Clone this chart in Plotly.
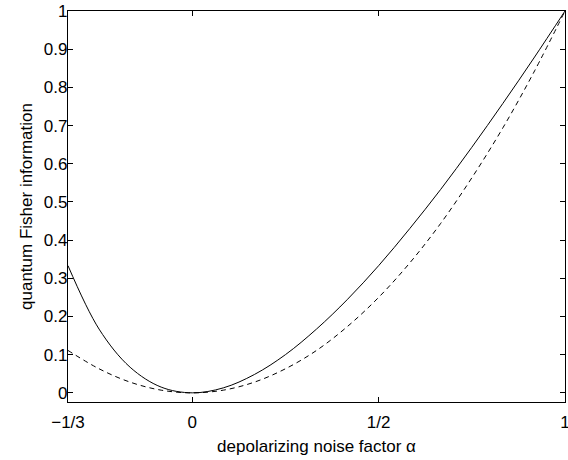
import plotly.graph_objects as go

# alpha sample points
alpha = [-4/12, -3/12, -2/12, -1/12, 0, 1/12, 2/12, 3/12, 4/12, 5/12,
         6/12, 7/12, 8/12, 9/12, 10/12, 11/12, 1]
# solid curve values
qfi_solid = [0.333, 0.167, 0.067, 0.015, 0.0, 0.013, 0.048, 0.100, 0.167,
             0.245, 0.333, 0.430, 0.533, 0.643, 0.758, 0.877, 1.0]
# dashed curve values
qfi_dashed = [0.111, 0.063, 0.028, 0.007, 0.0, 0.007, 0.028, 0.063, 0.111,
              0.174, 0.250, 0.340, 0.444, 0.563, 0.694, 0.840, 1.0]

x_tickvals = [-1/3, 0, 0.5, 1]
x_ticktext = ["\u22121/3", "0", "1/2", "1"]
y_tickvals = [0, 0.1, 0.2, 0.3, 0.4, 0.5, 0.6, 0.7, 0.8, 0.9, 1]
y_ticktext = ["0", "0.1", "0.2", "0.3", "0.4", "0.5", "0.6", "0.7", "0.8", "0.9", "1"]

fig = go.Figure()
fig.add_trace(go.Scatter(x=alpha, y=qfi_solid, mode="lines",
                         line=dict(color="black", width=1, shape="spline"),
                         showlegend=False))
fig.add_trace(go.Scatter(x=alpha, y=qfi_dashed, mode="lines",
                         line=dict(color="black", width=1, dash="5px,4px", shape="spline"),
                         showlegend=False))

axis_common = dict(showgrid=False, zeroline=False, showline=True, linecolor="black",
                   linewidth=1.3, mirror="ticks", ticks="inside", ticklen=5,
                   tickcolor="black", tickwidth=1, ticklabeloverflow="allow",
                   tickfont=dict(family="Liberation Sans, Arial, sans-serif", size=17, color="black"))

fig.update_layout(
    width=568, height=460,
    margin=dict(l=68, r=3, t=11, b=58),
    paper_bgcolor="white", plot_bgcolor="white",
    font=dict(family="Liberation Sans, Arial, sans-serif", size=17, color="black"),
    xaxis=dict(range=[-1/3, 1], tickvals=x_tickvals, ticktext=x_ticktext,
               ticklabelstandoff=4, automargin=False,
               title=dict(text="depolarizing noise factor \u03b1", standoff=9,
                          font=dict(size=17)),
               **axis_common),
    yaxis=dict(range=[-0.024, 1], tickvals=y_tickvals, ticktext=y_ticktext,
               ticklabelstandoff=-4, automargin=False,
               title=dict(text="quantum Fisher information", standoff=6,
                          font=dict(size=17)),
               **axis_common),
)

fig.write_html("out.html",
               config={"displayModeBar": False},
               post_script=("document.documentElement.style.margin='0';"
                            "document.documentElement.style.overflow='hidden';"
                            "document.body.style.margin='0';"
                            "document.body.style.overflow='hidden';"))
